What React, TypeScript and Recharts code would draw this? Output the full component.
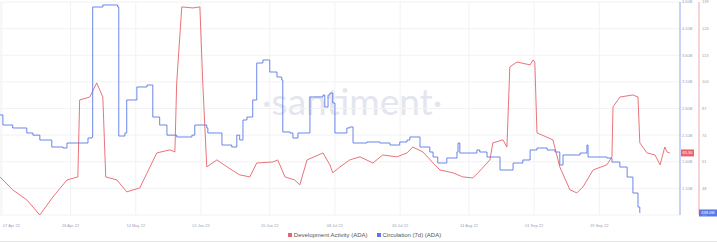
import React from 'react';
import {
  LineChart,
  Line,
  XAxis,
  YAxis,
  CartesianGrid,
  Legend,
  ReferenceDot,
} from 'recharts';

// days counted from 07 Apr 22
const dateTicks = [0, 19, 37, 55, 74, 92, 110, 129, 147, 165];
const dateLabels = [
  '07 Apr 22', '26 Apr 22', '14 May 22', '01 Jun 22', '20 Jun 22',
  '08 Jul 22', '26 Jul 22', '14 Aug 22', '01 Sep 22', '19 Sep 22',
];

const redTicks = [35, 48, 61, 74, 87, 100, 113, 126, 139];
const blueTicks = [1.1, 1.6, 2.1, 2.6, 3.1, 3.6, 4.1, 4.6];

// Development Activity (ADA)
const devDays = [
  -0.5, 3, 6.9, 10.5, 14.1, 18, 21, 21.5, 24.3, 26.2, 27.9, 28.7, 31.8, 34.5, 38.1,
  42.8, 46.4, 47.8, 48.3, 49.7, 52.8, 54.7, 55.5, 56.6, 59.4, 62.2, 65.7, 68.5, 70.4,
  74.9, 76.2, 78.2, 80.9, 82.3, 84.3, 88.7, 90.6, 91.4, 93.4, 96.1, 98.9, 102.5, 105.2,
  109.1, 111.9, 113.5, 116.3, 119.1, 121, 124.6, 127.3, 130.1, 132, 134.8, 135.6, 138.4,
  139.5, 140.3, 142.3, 145.9, 146.7, 147.2, 147.8, 152.2, 154.1, 156.9, 158.8, 160.5,
  163.3, 167.1, 168.5, 168.8, 170.7, 174.3, 175.7, 176.2, 178.2, 180.4, 181.8, 183.1,
  183.7, 184.5,
];
const devValues = [
  53.6, 47.3, 42.4, 35.0, 43.8, 52.1, 53.6, 91.2, 92.6, 99.5, 92.6, 53.6, 52.1, 46.3, 48.2,
  65.3, 66.8, 65.8, 99.5, 136.6, 136.1, 136.6, 99.5, 58.5, 61.9, 58.5, 54.6, 53.6, 60.4,
  60.9, 61.9, 53.6, 52.1, 49.7, 61.9, 65.3, 59.5, 55.6, 58.5, 61.9, 63.4, 60.4, 64.3,
  63.4, 65.3, 68.2, 65.8, 60.4, 57.0, 55.6, 53.6, 53.1, 56.5, 61.9, 70.2, 71.7,
  68.2, 107.3, 109.7, 108.3, 110.7, 109.7, 75.1, 71.7, 58.5, 47.3, 45.8, 48.7,
  57.0, 59.5, 63.4, 87.8, 92.6, 93.6, 92.6, 70.2, 65.3, 64.3, 59.5, 68.2,
  65.8, 65.3,
];

// Circulation (7d) (ADA), billions
const circDays = [
  -0.5, 0.3, 3, 6.9, 8.6, 10.5, 13.8, 16.9, 18, 23.8, 24.9, 25.1, 27.9, 32, 32.3, 34,
  34.5, 37.3, 40.1, 41.4, 41.7, 43.6, 45.6, 48.3, 52.5, 53.3, 56.6, 56.9, 59.7, 60.8,
  63.5, 64.9, 65.7, 66.6, 67.7, 69.3, 70.4, 72.1, 73.5, 74, 76, 77.3, 77.6, 79.6, 80.4,
  81.8, 84.5, 85.1, 88.7, 89.2, 90.1, 90.6, 91.4, 92, 94.2, 95.3, 96.1, 97, 100.8, 104.4,
  107.2, 109.9, 111.9, 112.7, 114.1, 115.5, 118.2, 119.1, 120.4, 122.9, 125.7, 126, 126.5,
  129.3, 131.2, 132, 134, 135.6, 137.6, 139.5, 141.2, 143.9, 145.9, 147.8, 150.6, 152.8,
  154.1, 155, 159.7, 161.6, 161.9, 167.1, 168.5, 170.7, 172.7, 174.3, 175.7, 176.2,
];
const circValues = [
  2.478, 2.29, 2.234, 2.14, 2.1, 2.008, 1.877, 1.858, 1.952, 2.046, 2.065, 4.506, 4.544,
  4.506, 2.083, 2.14, 2.76, 3.004, 3.041, 3.041, 2.44, 2.29, 2.1, 2.065, 2.1, 2.29, 2.234,
  2.14, 2.14, 1.914, 1.877, 2.1, 2.008, 2.384, 2.44, 2.76, 3.454, 3.511, 3.511, 3.285,
  3.191, 3.135, 2.159, 2.14, 2.046, 2.14, 2.14, 2.816, 2.853, 2.628, 2.853, 2.891, 2.703,
  2.14, 2.14, 2.234, 2.253, 1.952, 1.971, 1.952, 1.914, 1.971, 2.008, 2.065, 2.065, 1.877,
  1.783, 1.689, 1.576, 1.67, 1.783, 1.952, 1.764, 1.764, 1.821, 1.783, 1.689, 1.689,
  1.445, 1.445, 1.576, 1.633, 1.821, 1.858, 1.821, 1.783, 1.539, 1.727, 1.764, 1.914,
  1.689, 1.67, 1.595, 1.501, 1.313, 1.013, 0.75, 0.638,
];

const devData = devDays.map((day, i) => ({ day, value: devValues[i] }));
const circData = circDays.map((day, i) => ({ day, value: circValues[i] }));

const RED = '#e8636b';
const BLUE = '#5a78e6';
const X_MAX = 187.3;

const fmtBlue = (v: number) => (v >= 1 ? `${v.toFixed(2)}B` : `${(v * 1000).toFixed(1)}M`);

const DateTick = (props: any) => {
  const { x, y, payload, index } = props;
  return (
    <text
      x={index === 0 ? x + 1 : x}
      y={y + 4}
      fill="#9aa3b5"
      fontSize={4}
      textAnchor={index === 0 ? 'start' : 'middle'}
    >
      {dateLabels[dateTicks.indexOf(payload.value)]}
    </text>
  );
};

const LegendBox = () => (
  <div
    style={{
      display: 'flex',
      justifyContent: 'center',
      alignItems: 'center',
      height: 15,
      fontSize: 6,
      color: '#555',
      gap: 9,
      paddingLeft: 12,
      fontFamily: '"Liberation Sans", Arial, sans-serif',
    }}
  >
    <span style={{ display: 'flex', alignItems: 'center' }}>
      <span style={{ width: 4, height: 4, background: RED, marginRight: 2 }} />
      Development Activity (ADA)
    </span>
    <span style={{ display: 'flex', alignItems: 'center' }}>
      <span style={{ width: 4, height: 4, background: BLUE, marginRight: 2 }} />
      Circulation (7d) (ADA)
    </span>
  </div>
);

const badge = (color: string, text: string, w: number, shift: number) => (props: any) => {
  const { cx, cy } = props;
  const left = cx + 1 + shift;
  return (
    <g>
      <rect x={left} y={cy - 3.5} width={w} height={7} fill={color} />
      <text x={left + w / 2} y={cy + 1.5} fill="#fff" fontSize={4} textAnchor="middle">
        {text}
      </text>
    </g>
  );
};

export default function App() {
  const lastDev = devValues[devValues.length - 1];
  const lastCirc = circValues[circValues.length - 1];
  return (
    <div style={{ position: 'absolute', left: 0, top: 0, width: 717, height: 242, background: '#fff' }}>
      <div
        style={{
          position: 'absolute',
          left: 262,
          top: 78,
          fontFamily: 'Lato, sans-serif',
          fontWeight: 400,
          fontSize: 37,
          color: '#e3e6ef',
        }}
      >
        ·santiment·
      </div>
      <div style={{ position: 'absolute', left: 0, bottom: 0, width: 717, height: 1, background: '#e6e6e6' }} />
      <LineChart
        width={717}
        height={242}
        margin={{ top: 2, right: 0, bottom: 0, left: 0 }}
        style={{ fontFamily: '"Liberation Sans", Arial, sans-serif', position: 'relative' }}
      >
        <CartesianGrid yAxisId="red" stroke="#f2f2f4" />
        <XAxis
          dataKey="day"
          type="number"
          domain={[-0.5, X_MAX]}
          allowDataOverflow
          ticks={dateTicks}
          interval={0}
          tick={<DateTick />}
          axisLine={false}
          tickLine={false}
          height={12}
        />
        <YAxis
          yAxisId="red"
          orientation="right"
          domain={[35, 139]}
          ticks={redTicks}
          interval={0}
          width={18}
          axisLine={{ stroke: '#f0a7aa' }}
          tickLine={false}
          tickSize={0}
          tickMargin={3}
          tick={{ fontSize: 4, fill: '#9aa3b5' }}
        />
        <YAxis
          yAxisId="blue"
          orientation="right"
          domain={[0.6, 4.6]}
          ticks={blueTicks}
          interval={0}
          width={19}
          axisLine={{ stroke: '#9aabef' }}
          tickLine={false}
          tickSize={0}
          tickMargin={2}
          tick={{ fontSize: 4, fill: '#9aa3b5' }}
          tickFormatter={fmtBlue}
        />
        <Legend verticalAlign="bottom" content={<LegendBox />} />
        <Line
          yAxisId="red"
          data={devData}
          dataKey="value"
          type="linear"
          stroke={RED}
          strokeWidth={0.9}
          dot={false}
          isAnimationActive={false}
        />
        <Line
          yAxisId="blue"
          data={circData}
          dataKey="value"
          type="stepAfter"
          stroke={BLUE}
          strokeWidth={0.9}
          dot={false}
          isAnimationActive={false}
        />
        <ReferenceDot
          yAxisId="red"
          x={X_MAX}
          y={lastDev}
          ifOverflow="visible"
          shape={badge(RED, lastDev.toFixed(2), 13, 0)}
        />
        <ReferenceDot
          yAxisId="blue"
          x={X_MAX}
          y={lastCirc}
          ifOverflow="visible"
          shape={badge(BLUE, fmtBlue(lastCirc), 18, 18)}
        />
      </LineChart>
    </div>
  );
}
